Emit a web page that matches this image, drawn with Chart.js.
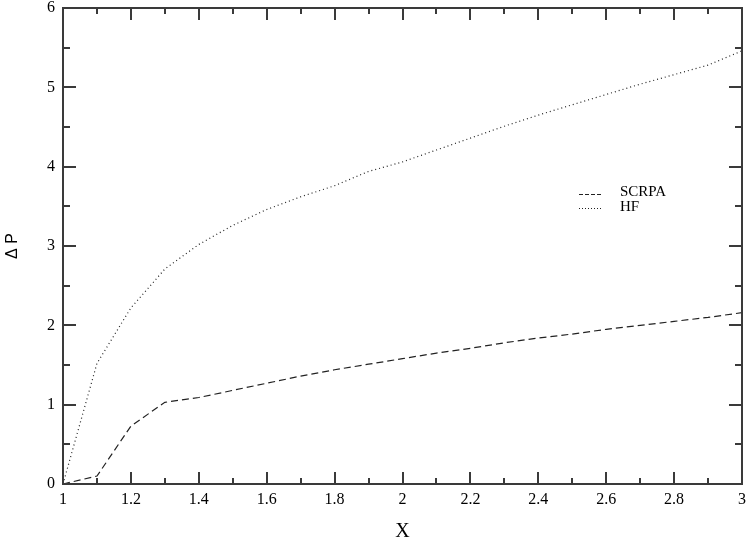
<!DOCTYPE html>
<html>
<head>
<meta charset="utf-8">
<script src="https://cdn.jsdelivr.net/npm/chart.js@4"></script>
<style>
html,body{margin:0;padding:0;background:#fff;}
#wrap{width:747px;height:546px;position:relative;}
</style>
</head>
<body>
<div id="wrap"><canvas id="c" width="747" height="546"></canvas></div>
<script>
const xValues = [1.0, 1.1, 1.2, 1.3, 1.4, 1.5, 1.6, 1.7, 1.8, 1.9, 2.0, 2.1, 2.2, 2.3, 2.4, 2.5, 2.6, 2.7, 2.8, 2.9, 3.0];
const scrpaValues = [0, 0.10, 0.73, 1.03, 1.09, 1.18, 1.27, 1.36, 1.44, 1.51, 1.58, 1.65, 1.71, 1.78, 1.84, 1.89, 1.95, 2.00, 2.05, 2.10, 2.16];
const hfValues = [0, 1.52, 2.22, 2.71, 3.02, 3.26, 3.46, 3.62, 3.76, 3.94, 4.06, 4.21, 4.36, 4.51, 4.65, 4.78, 4.91, 5.04, 5.16, 5.28, 5.46];
const xTickValues = [1, 1.2, 1.4, 1.6, 1.8, 2, 2.2, 2.4, 2.6, 2.8, 3];
const xTickLabels = ['1', '1.2', '1.4', '1.6', '1.8', '2', '2.2', '2.4', '2.6', '2.8', '3'];
const yTickValues = [0, 1, 2, 3, 4, 5, 6];
const yTickLabels = ['0', '1', '2', '3', '4', '5', '6'];
const seriesNames = ['SCRPA', 'HF'];
const xTitle = 'X';
const yTitle = 'Δ P';

const SERIF = "'Liberation Serif', 'Times New Roman', serif";
const SANS = "'Liberation Sans', Arial, sans-serif";

const toPts = (ys) => xValues.map((x, i) => ({x: x, y: ys[i]}));

const frameTicks = {
  id: 'frameTicks',
  afterDatasetsDraw(chart) {
    const {ctx, chartArea: a, scales: {x, y}} = chart;
    ctx.save();
    ctx.strokeStyle = '#3a3a3a';
    ctx.lineWidth = 2;
    ctx.strokeRect(a.left, a.top, a.right - a.left, a.bottom - a.top);
    ctx.beginPath();
    for (let i = 0; i < xTickValues.length; i++) {
      const px = Math.round(x.getPixelForValue(xTickValues[i]));
      ctx.moveTo(px, a.bottom); ctx.lineTo(px, a.bottom - 12);
      ctx.moveTo(px, a.top); ctx.lineTo(px, a.top + 12);
      if (i < xTickValues.length - 1) {
        const m = Math.round(x.getPixelForValue((xTickValues[i] + xTickValues[i + 1]) / 2));
        ctx.moveTo(m, a.bottom); ctx.lineTo(m, a.bottom - 6);
        ctx.moveTo(m, a.top); ctx.lineTo(m, a.top + 6);
      }
    }
    for (let i = 0; i < yTickValues.length; i++) {
      const py = Math.round(y.getPixelForValue(yTickValues[i]));
      ctx.moveTo(a.left, py); ctx.lineTo(a.left + 13, py);
      ctx.moveTo(a.right, py); ctx.lineTo(a.right - 13, py);
      if (i < yTickValues.length - 1) {
        const m = Math.round(y.getPixelForValue((yTickValues[i] + yTickValues[i + 1]) / 2));
        ctx.moveTo(a.left, m); ctx.lineTo(a.left + 7, m);
        ctx.moveTo(a.right, m); ctx.lineTo(a.right - 7, m);
      }
    }
    ctx.stroke();

    // legend
    const lx0 = 579, lx1 = 601, tx = 620;
    const rows = [194, 208];
    const textRows = [192, 207];
    chart.data.datasets.forEach((ds, i) => {
      ctx.strokeStyle = '#222';
      ctx.lineWidth = 1;
      ctx.setLineDash(i === 0 ? [4, 2] : [1, 2]);
      ctx.beginPath();
      ctx.moveTo(lx0, rows[i] + 0.5); ctx.lineTo(lx1, rows[i] + 0.5);
      ctx.stroke();
      ctx.setLineDash([]);
      ctx.fillStyle = '#000';
      ctx.font = '15px ' + SERIF;
      ctx.textBaseline = 'middle';
      ctx.textAlign = 'left';
      ctx.fillText(ds.label, tx, textRows[i]);
    });
    ctx.restore();
  }
};

new Chart(document.getElementById('c'), {
  type: 'line',
  data: {
    datasets: [
      {label: seriesNames[0], data: toPts(scrpaValues), borderColor: '#222', borderWidth: 1.2, borderDash: [7, 4], pointRadius: 0, tension: 0, fill: false},
      {label: seriesNames[1], data: toPts(hfValues), borderColor: '#222', borderWidth: 1.2, borderDash: [1, 3], pointRadius: 0, tension: 0, fill: false}
    ]
  },
  options: {
    responsive: false,
    animation: false,
    devicePixelRatio: 1,
    layout: {padding: {top: 8, right: 5, left: 0, bottom: 0}},
    plugins: {legend: {display: false}, tooltip: {enabled: false}},
    scales: {
      x: {
        type: 'linear', min: 1, max: 3,
        afterBuildTicks: (s) => { s.ticks = xTickValues.map(v => ({value: v})); },
        afterFit: (s) => { s.height = 62; s.paddingLeft = 0; s.paddingRight = 0; },
        grid: {display: false, drawTicks: false},
        border: {display: false},
        ticks: {
          callback: (v, i) => xTickLabels[i],
          color: '#000', font: {family: SERIF, size: 16}, padding: 6, maxRotation: 0, autoSkip: false
        },
        title: {display: true, text: xTitle, color: '#000', font: {family: SERIF, size: 20}, padding: {top: 0, bottom: 2}}
      },
      y: {
        type: 'linear', min: 0, max: 6,
        afterBuildTicks: (s) => { s.ticks = yTickValues.map(v => ({value: v})); },
        afterFit: (s) => { s.width = 63; s.paddingTop = 0; s.paddingBottom = 0; },
        grid: {display: false, drawTicks: false},
        border: {display: false},
        ticks: {
          callback: (v, i) => yTickLabels[i],
          color: '#000', font: {family: SERIF, size: 16}, padding: 8
        },
        title: {display: true, text: yTitle, color: '#000', font: {family: SANS, size: 16}, padding: {top: 3, bottom: 0}}
      }
    }
  },
  plugins: [frameTicks]
});
</script>
</body>
</html>
